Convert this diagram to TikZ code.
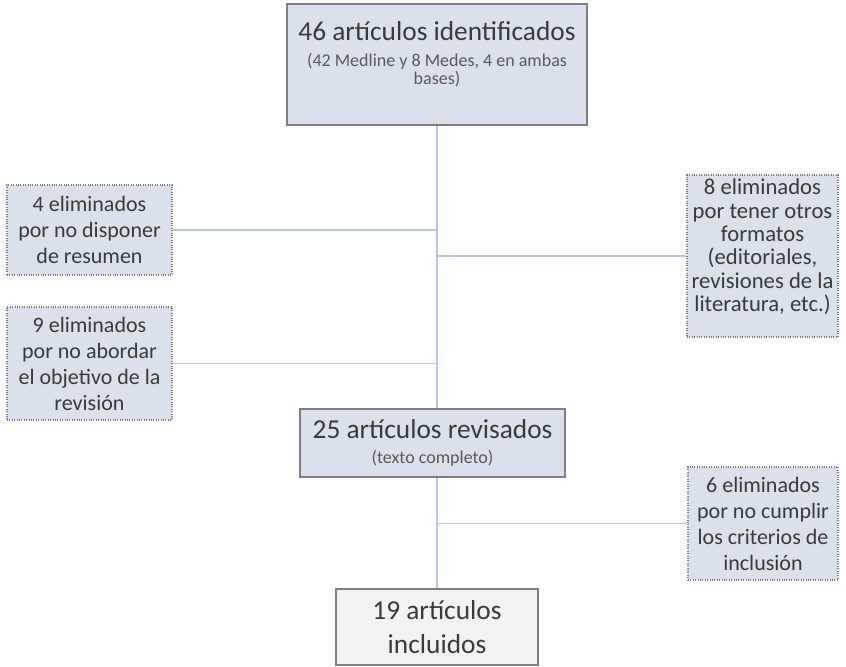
\documentclass[tikz,border=0pt]{standalone}
\usepackage{fontspec}
\setmainfont{Carlito}
\usepackage{xcolor}
\usetikzlibrary{positioning, shadows}

\definecolor{boxfill}{HTML}{DAE0EC}
\definecolor{boxline}{HTML}{7F7F7F}
\definecolor{linkline}{HTML}{B4C7E7}
\definecolor{inclfill}{HTML}{F2F2F2}
\definecolor{txt}{HTML}{3A3A3A}
\definecolor{subtxt}{HTML}{5A5A5A}

\newcommand{\bigtxt}{\fontsize{20.5}{25}\selectfont}
\newcommand{\subtxt}{\color{subtxt}\fontsize{13.5}{14}\selectfont}

\begin{document}
\begin{tikzpicture}[x=0.75pt, y=-0.75pt,
    mainbox/.style={draw=boxline, fill=boxfill, line width=0.8pt, inner sep=0pt,
        align=center, text=txt,
        drop shadow={shadow xshift=0.6pt, shadow yshift=-1pt, opacity=0.35}},
    sidebox/.style={draw=boxline, densely dotted, fill=boxfill, line width=0.8pt,
        inner sep=0pt, align=center, text=txt, font=\fontsize{16.5}{19.5}\selectfont},
    link/.style={draw=linkline, line width=1.4pt}]
    \useasboundingbox (0,0) rectangle (846,667);

    \node[mainbox, minimum width=225pt, minimum height=90.75pt] (ident) at (437,64.5)
        {\parbox[c][90.75pt][t]{222pt}{\centering\vspace{13.5pt}%
        {\bigtxt 46 artículos identificados\par}\vspace{5pt}%
        {\subtxt (42 Medline y 8 Medes, 4 en ambas\\ bases)\par}}};
    \node[mainbox, minimum width=198.75pt, minimum height=51pt, font=\fontsize{20.5}{19}\selectfont]
        (rev) at (432.5,443) {25 artículos revisados\\{\subtxt (texto completo)}};
    \node[draw=boxline, fill=inclfill, line width=0.8pt, inner sep=0pt, align=center, text=txt,
        minimum width=151.5pt, minimum height=57pt, font=\fontsize{20.5}{26}\selectfont]
        (incl) at (437,627) {19 artículos\\incluidos};

    \node[sidebox, minimum width=123.75pt, minimum height=67.5pt] (noresumen) at (89.5,230)
        {4 eliminados\\por no disponer\\de resumen};
    \node[sidebox, minimum width=123.75pt, minimum height=84.75pt] (noobjetivo) at (89.5,363.5)
        {9 eliminados\\por no abordar\\el objetivo de la\\revisión};
    \node[sidebox, minimum width=113.25pt, minimum height=121.5pt] (formatos) at (762.5,256)
        {\parbox[c][121.5pt][t]{113pt}{\centering\fontsize{17}{17.5}\selectfont\vspace{3pt}%
        8 eliminados\\por tener otros\\formatos\\(editoriales,\\revisiones de la\\literatura, etc.)\par}};
    \node[sidebox, minimum width=112.5pt, minimum height=84.75pt] (criterios) at (763,523.5)
        {6 eliminados\\por no cumplir\\los criterios de\\inclusión};

    % conectores
    \draw[link] (ident.south) -- (ident.south |- rev.north);
    \draw[link] (noresumen.east) -- (noresumen.east -| ident.south);
    \draw[link] (noobjetivo.east) -- (noobjetivo.east -| ident.south);
    \draw[link] (formatos.west) -- (formatos.west -| ident.south);
    \draw[link] (incl.north) -- (incl.north |- rev.south);
    \draw[link] (criterios.west) -- (criterios.west -| incl.north);
\end{tikzpicture}
\end{document}
